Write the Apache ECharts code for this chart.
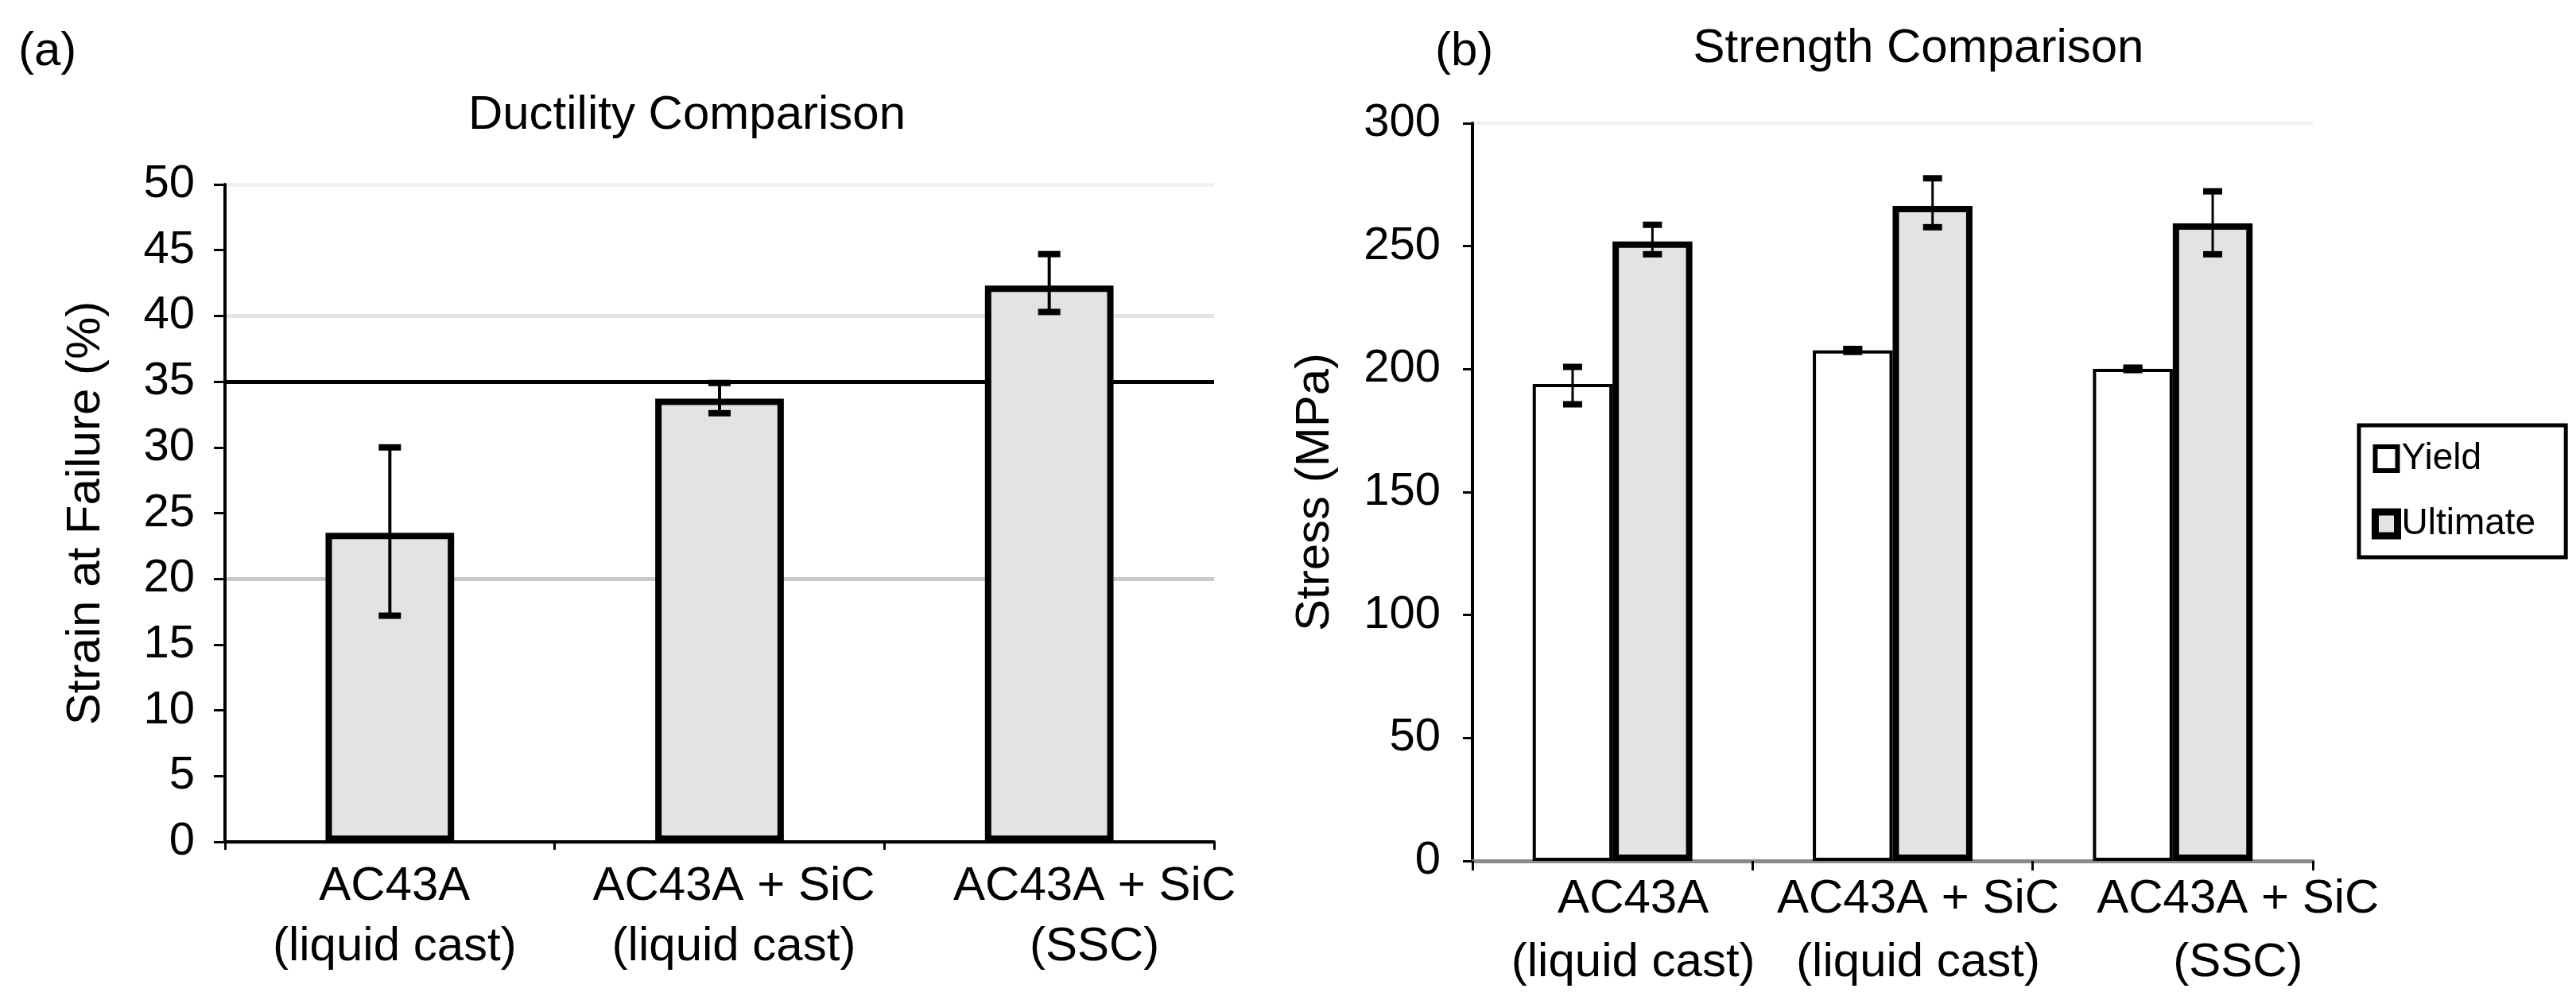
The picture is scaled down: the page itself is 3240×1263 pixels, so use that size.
<!DOCTYPE html>
<html><head><meta charset="utf-8">
<script src="https://cdn.jsdelivr.net/npm/echarts@6/dist/echarts.min.js"></script>
<style>html,body{margin:0;padding:0;background:#fff}#c{width:3240px;height:1263px}</style>
</head><body><div id="c"></div>
<script>
// ---- data ----
const categories = ['AC43A\n(liquid cast)', 'AC43A + SiC\n(liquid cast)', 'AC43A + SiC\n(SSC)'];
const strainMean = [23.5, 33.7, 42.3];
const strainLow  = [17.2, 32.6, 40.3];
const strainHigh = [30.0, 34.9, 44.7];
const yieldMean = [194.0, 207.6, 200.1];
const yieldLow  = [185.7, 207.0, 199.6];
const yieldHigh = [200.9, 208.2, 200.6];
const ultimateMean = [251.9, 266.4, 259.3];
const ultimateLow  = [246.7, 257.7, 246.7];
const ultimateHigh = [258.7, 277.6, 272.3];
const seriesNames = ['Yield', 'Ultimate'];

const FONT = "'Liberation Sans', Arial, sans-serif";
const T = 'rgba(0,0,0,0)';

function errRows(lo, hi) { return lo.map((v, i) => [i, v, hi[i]]); }

function errorBar(offsetFrac, capW, lw, capLw) {
  return function (params, api) {
    const xi = api.value(0), lo = api.value(1), hi = api.value(2);
    const band = api.size([1, 0])[0];
    const pLo = api.coord([xi, lo]);
    const pHi = api.coord([xi, hi]);
    const x = pLo[0] + offsetFrac * band;
    return {
      type: 'group',
      children: [
        { type: 'line', shape: { x1: x, y1: pLo[1], x2: x, y2: pHi[1] }, style: { stroke: '#000', lineWidth: lw } },
        { type: 'line', shape: { x1: x - capW / 2, y1: pHi[1], x2: x + capW / 2, y2: pHi[1] }, style: { stroke: '#000', lineWidth: capLw } },
        { type: 'line', shape: { x1: x - capW / 2, y1: pLo[1], x2: x + capW / 2, y2: pLo[1] }, style: { stroke: '#000', lineWidth: capLw } }
      ]
    };
  };
}

function labelFmt(v, i) { return v.split('\n').map(s => '{p' + i + '|' + s + '}').join('\n'); }

const chart = echarts.init(document.getElementById('c'));
chart.setOption({
  backgroundColor: '#fff',
  animation: false,
  textStyle: { fontFamily: FONT, color: '#000' },
  title: [
    { text: '(a)', left: 18, top: 30, textStyle: { fontSize: 60, fontWeight: 'normal', fontFamily: FONT, color: '#000' } },
    { text: 'Ductility Comparison', left: 859, top: 110, textAlign: 'center', textStyle: { fontSize: 60, fontWeight: 'normal', fontFamily: FONT, color: '#000' } },
    { text: '(b)', left: 1800, top: 30, textStyle: { fontSize: 60, fontWeight: 'normal', fontFamily: FONT, color: '#000' } },
    { text: 'Strength Comparison', left: 2408, top: 26, textAlign: 'center', textStyle: { fontSize: 60, fontWeight: 'normal', fontFamily: FONT, color: '#000' } }
  ],
  legend: {
    orient: 'vertical',
    left: 2967, top: 535,
    icon: 'rect',
    itemWidth: 28, itemHeight: 30, itemGap: 30,
    padding: [16, 38, 16, 16],
    borderColor: '#000', borderWidth: 5,
    backgroundColor: '#fff',
    textStyle: { fontSize: 46, fontFamily: FONT, color: '#000', lineHeight: 52 },
    data: [
      { name: seriesNames[0], itemStyle: { borderWidth: 6, borderColor: '#000', color: '#fff' } },
      { name: seriesNames[1], itemStyle: { borderWidth: 9, borderColor: '#000', color: '#e3e3e3' } }
    ]
  },
  grid: [
    { left: 283, right: 1713, top: 232, bottom: 204 },
    { left: 1852, right: 331, top: 155, bottom: 180 }
  ],
  xAxis: [
    {
      gridIndex: 0, type: 'category', data: categories,
      axisLine: { lineStyle: { color: '#000', width: 4 } },
      axisTick: { show: true, length: 10, lineStyle: { color: '#000', width: 3 } },
      axisLabel: {
        interval: 0, hideOverlap: false,
        margin: 18, fontSize: 60, lineHeight: 76, color: '#000', fontFamily: FONT,
        formatter: labelFmt,
        rich: {
          p0: { fontSize: 60, lineHeight: 76, fontFamily: FONT, padding: [0, 0, 0, 12] },
          p1: { fontSize: 60, lineHeight: 76, fontFamily: FONT, padding: [0, 0, 0, 36] },
          p2: { fontSize: 60, lineHeight: 76, fontFamily: FONT, padding: [0, 0, 0, 114] }
        }
      }
    },
    {
      gridIndex: 1, type: 'category', data: categories,
      axisLine: { lineStyle: { color: '#8a8a8a', width: 5 } },
      axisTick: { show: true, length: 12, lineStyle: { color: '#000', width: 3 } },
      axisLabel: {
        interval: 0, hideOverlap: false,
        margin: 8, fontSize: 60, lineHeight: 80, color: '#000', fontFamily: FONT,
        formatter: labelFmt,
        rich: {
          p0: { fontSize: 60, lineHeight: 80, fontFamily: FONT, padding: [0, 0, 0, 52] },
          p1: { fontSize: 60, lineHeight: 80, fontFamily: FONT, padding: [0, 0, 0, 64] },
          p2: { fontSize: 60, lineHeight: 80, fontFamily: FONT, padding: [0, 0, 0, 164] }
        }
      }
    }
  ],
  yAxis: [
    {
      gridIndex: 0, type: 'value', min: 0, max: 50, interval: 5,
      name: 'Strain at Failure (%)', nameLocation: 'middle', nameGap: 145,
      nameTextStyle: { fontSize: 60, fontFamily: FONT, color: '#000' },
      axisLine: { show: true, lineStyle: { color: '#000', width: 4 } },
      axisTick: { show: true, length: 14, lineStyle: { color: '#000', width: 3 } },
      axisLabel: { fontSize: 58, margin: 38, color: '#000', fontFamily: FONT },
      splitLine: {
        show: true,
        lineStyle: {
          width: 5,
          color: ['#c8c8c8', T, T, T, '#c8c8c8', T, T, '#000', '#e4e4e4', T, '#f0f0f0']
        }
      }
    },
    {
      gridIndex: 1, type: 'value', min: 0, max: 300, interval: 50,
      name: 'Stress (MPa)', nameLocation: 'middle', nameGap: 168,
      nameTextStyle: { fontSize: 60, fontFamily: FONT, color: '#000' },
      axisLine: { show: true, lineStyle: { color: '#000', width: 4 } },
      axisTick: { show: true, length: 12, lineStyle: { color: '#000', width: 3 } },
      axisLabel: { fontSize: 58, margin: 40, color: '#000', fontFamily: FONT },
      splitLine: {
        show: true,
        lineStyle: { width: 4, color: [T, T, T, T, T, T, '#f0f0f0'] }
      }
    }
  ],
  series: [
    {
      name: 'Strain', type: 'bar', xAxisIndex: 0, yAxisIndex: 0,
      data: strainMean, barWidth: '39%',
      itemStyle: { color: '#e3e3e3', borderColor: '#000', borderWidth: 8 }
    },
    {
      type: 'custom', xAxisIndex: 0, yAxisIndex: 0,
      renderItem: errorBar(0, 28, 4, 8),
      encode: { x: 0, y: [1, 2] },
      data: errRows(strainLow, strainHigh), z: 5
    },
    {
      name: seriesNames[0], type: 'bar', xAxisIndex: 1, yAxisIndex: 1,
      data: yieldMean, barWidth: '28.5%', barGap: '0%',
      itemStyle: { color: '#fff', borderColor: '#000', borderWidth: 4 }
    },
    {
      name: seriesNames[1], type: 'bar', xAxisIndex: 1, yAxisIndex: 1,
      data: ultimateMean, barWidth: '28.5%', barGap: '0%',
      itemStyle: { color: '#e3e3e3', borderColor: '#000', borderWidth: 8 }
    },
    {
      type: 'custom', xAxisIndex: 1, yAxisIndex: 1,
      renderItem: errorBar(-0.1425, 24, 3, 8),
      encode: { x: 0, y: [1, 2] },
      data: errRows(yieldLow, yieldHigh), z: 5
    },
    {
      type: 'custom', xAxisIndex: 1, yAxisIndex: 1,
      renderItem: errorBar(0.1425, 24, 3, 8),
      encode: { x: 0, y: [1, 2] },
      data: errRows(ultimateLow, ultimateHigh), z: 5
    }
  ]
});
</script>
</body></html>
